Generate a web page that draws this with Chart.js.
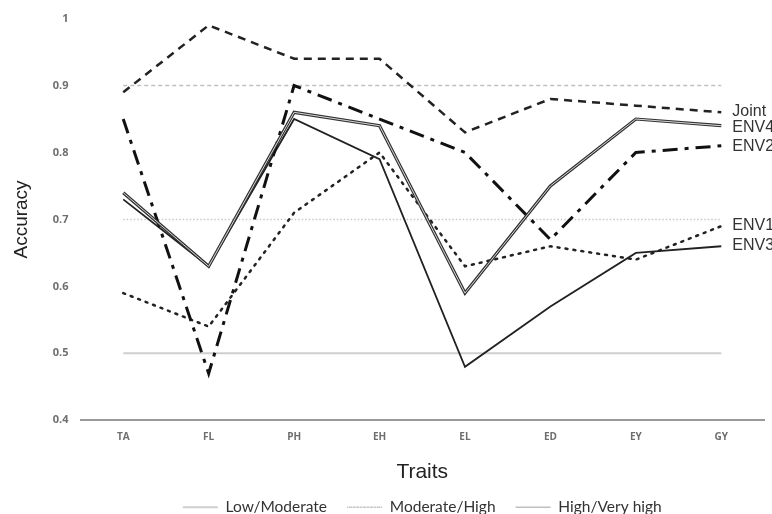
<!DOCTYPE html>
<html>
<head>
<meta charset="utf-8">
<title>Accuracy by trait</title>
<script src="https://cdn.jsdelivr.net/npm/chart.js@4.4.1/dist/chart.umd.min.js"></script>
<style>
  html, body { margin: 0; padding: 0; background: #fff; }
  #wrap { width: 772px; height: 514px; }
</style>
</head>
<body>
<div id="wrap"><canvas id="chart"></canvas></div>
<script>
var traits = ['TA', 'FL', 'PH', 'EH', 'EL', 'ED', 'EY', 'GY'];
var yTicks = [0.4, 0.5, 0.6, 0.7, 0.8, 0.9, 1];

var joint = [0.89, 0.99, 0.94, 0.94, 0.83, 0.88, 0.87, 0.86];
var env4 = [0.74, 0.63, 0.86, 0.84, 0.59, 0.75, 0.85, 0.84];
var env2 = [0.85, 0.47, 0.90, 0.85, 0.80, 0.67, 0.80, 0.81];
var env1 = [0.59, 0.54, 0.71, 0.80, 0.63, 0.66, 0.64, 0.69];
var env3 = [0.73, 0.63, 0.85, 0.79, 0.48, 0.57, 0.65, 0.66];

var lowModerate = [0.5, 0.5, 0.5, 0.5, 0.5, 0.5, 0.5, 0.5];
var moderateHigh = [0.7, 0.7, 0.7, 0.7, 0.7, 0.7, 0.7, 0.7];
var highVeryHigh = [0.9, 0.9, 0.9, 0.9, 0.9, 0.9, 0.9, 0.9];

function line(label, data, color, width, dash, extra) {
  var ds = {
    label: label,
    data: data,
    borderColor: color,
    backgroundColor: 'rgba(0,0,0,0)',
    borderWidth: width,
    borderDash: dash || [],
    pointRadius: 0,
    tension: 0,
    fill: false
  };
  for (var k in extra) { ds[k] = extra[k]; }
  return ds;
}

// writes the series name just right of the last point
var endLabels = {
  id: 'endLabels',
  afterDatasetsDraw: function(chart) {
    var ctx = chart.ctx;
    ctx.save();
    ctx.font = '16px "Liberation Sans", Arial, sans-serif';
    ctx.fillStyle = '#333';
    ctx.textBaseline = 'middle';
    chart.data.datasets.forEach(function(ds, i) {
      if (!ds.endLabel) return;
      var pts = chart.getDatasetMeta(i).data;
      var p = pts[pts.length - 1];
      ctx.fillText(ds.endLabel, p.x + 11, p.y + (ds.labelShift || 0));
    });
    ctx.restore();
  }
};

var datasets = [
  line('Joint', joint, '#222', 2.5, [8, 6], { endLabel: 'Joint', labelShift: -1 }),
  line('ENV4 inner', env4, '#d8d8d8', 1, [], {}),
  line('ENV4', env4, '#333', 3.2, [], { endLabel: 'ENV4', labelShift: 2 }),
  line('ENV2', env2, '#111', 3, [15, 7, 4, 7], { endLabel: 'ENV2', labelShift: 1 }),
  line('ENV1', env1, '#222', 2.5, [2, 6], { endLabel: 'ENV1', borderCapStyle: 'round', labelShift: -1 }),
  line('ENV3', env3, '#222', 1.8, [], { endLabel: 'ENV3', labelShift: -1 }),
  line('Low/Moderate', lowModerate, '#cfcfcf', 2, [], {}),
  line('Moderate/High', moderateHigh, '#c8c8c8', 1.5, [1.5, 2], {}),
  line('High/Very high', highVeryHigh, '#c0c0c0', 1.5, [4, 3], {})
];

var legendNames = ['Low/Moderate', 'Moderate/High', 'High/Very high'];

new Chart(document.getElementById('chart').getContext('2d'), {
  type: 'line',
  data: { labels: traits, datasets: datasets },
  plugins: [endLabels],
  options: {
    responsive: true,
    maintainAspectRatio: false,
    animation: false,
    layout: { padding: { top: 12, right: 8, left: 4, bottom: -11 } },
    plugins: {
      tooltip: { enabled: false },
      legend: {
        position: 'bottom',
        fullSize: false,
        labels: {
          boxWidth: 35,
          boxHeight: 0,
          padding: 20,
          color: '#333',
          font: { family: 'Lato, "Open Sans", sans-serif', size: 15.5 },
          filter: function(item) { return legendNames.indexOf(item.text) >= 0; }
        }
      }
    },
    scales: {
      x: {
        offset: true,
        grid: { display: false, drawTicks: false },
        border: { display: true, color: '#999', width: 2 },
        ticks: {
          color: '#6e6e6e',
          padding: 11,
          font: { family: '"Open Sans", sans-serif', size: 10, weight: 'bold' }
        },
        title: {
          display: true,
          text: 'Traits',
          color: '#222',
          padding: { top: 5, bottom: -5 },
          font: { family: '"Liberation Sans", Arial, sans-serif', size: 21 }
        }
      },
      y: {
        min: 0.4,
        max: 1,
        afterBuildTicks: function(axis) {
          axis.ticks = yTicks.map(function(v) { return { value: v }; });
        },
        grid: { display: false, drawTicks: false },
        border: { display: false },
        ticks: {
          color: '#6e6e6e',
          padding: 12,
          font: { family: '"Open Sans", sans-serif', size: 11, weight: 'bold' },
          callback: function(v) { return String(Math.round(v * 10) / 10); }
        },
        title: {
          display: true,
          text: 'Accuracy',
          color: '#222',
          padding: { top: 6, bottom: 8 },
          font: { family: '"Liberation Sans", Arial, sans-serif', size: 19 }
        }
      }
    }
  }
});
</script>
</body>
</html>
